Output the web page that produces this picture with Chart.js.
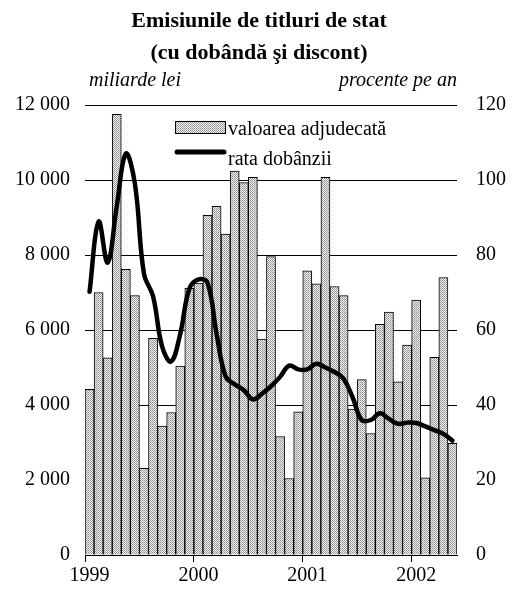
<!DOCTYPE html>
<html>
<head>
<meta charset="utf-8">
<script src="https://cdn.jsdelivr.net/npm/chart.js@4/dist/chart.umd.min.js"></script>
<style>
    html, body { margin: 0; padding: 0; background: #fff; }
</style>
</head>
<body>
<canvas id="emisiuniChart" width="517" height="590"></canvas>
<script>
const luni = [
    'ian 1999', 'feb 1999', 'mar 1999', 'apr 1999', 'mai 1999', 'iun 1999', 'iul 1999', 'aug 1999', 'sep 1999', 'oct 1999', 'nov 1999', 'dec 1999',
    'ian 2000', 'feb 2000', 'mar 2000', 'apr 2000', 'mai 2000', 'iun 2000', 'iul 2000', 'aug 2000', 'sep 2000', 'oct 2000', 'nov 2000', 'dec 2000',
    'ian 2001', 'feb 2001', 'mar 2001', 'apr 2001', 'mai 2001', 'iun 2001', 'iul 2001', 'aug 2001', 'sep 2001', 'oct 2001', 'nov 2001', 'dec 2001',
    'ian 2002', 'feb 2002', 'mar 2002', 'apr 2002', 'mai 2002'
];

// miliarde lei
const valoareaAdjudecata = [
    4420, 7000, 5260, 11750, 7620, 6920, 2310, 5780, 3440, 3800, 5040, 7110,
    7250, 9060, 9300, 8560, 10240, 9930, 10070, 5760, 7960, 3160, 2040, 3820,
    7580, 7230, 10070, 7160, 6920, 3890, 4680, 3240, 6150, 6480, 4620, 5600,
    6800, 2060, 5270, 7400, 2980
];

// procente pe an
const rataDobanzii = [
    70.2, 88.9, 78, 93, 107, 99, 75, 69, 55.6, 51.6, 59, 71,
    73.5, 72.6, 59, 47.6, 45.5, 44, 41.5, 43, 45, 47.5, 50.5, 49.5,
    49.5, 51, 50, 48.8, 47, 42, 36, 36, 37.8, 36.3, 35, 35.3,
    35.2, 34.3, 33.3, 32.3, 30.5
];

const leftTicks = [0, 2000, 4000, 6000, 8000, 10000, 12000];
const rightTicks = [0, 20, 40, 60, 80, 100, 120];

const SERIF = '"Liberation Serif", "Times New Roman", serif';

function formatLei(value) {
    return value.toString().replace(/\B(?=(\d{3})+(?!\d))/g, ' ');
}

function makePattern(ctx) {
    const c = document.createElement('canvas');
    c.width = 2;
    c.height = 2;
    const g = c.getContext('2d');
    g.fillStyle = '#f0f0f0';
    g.fillRect(0, 0, 2, 2);
    g.fillStyle = '#8c8c8c';
    g.fillRect(0, 0, 1, 1);
    g.fillStyle = '#a6a6a6';
    g.fillRect(1, 1, 1, 1);
    return ctx.createPattern(c, 'repeat');
}

// titles, unit captions and the legend inside the plot
const textsPlugin = {
    id: 'texts',
    afterDraw(chart) {
        const ctx = chart.ctx;
        ctx.save();
        ctx.fillStyle = '#000';
        ctx.textBaseline = 'alphabetic';

        ctx.font = 'bold 22px ' + SERIF;
        ctx.textAlign = 'center';
        ctx.fillText('Emisiunile de titluri de stat', 259, 27);
        ctx.fillText('(cu dobândă şi discont)', 259, 59);

        ctx.font = 'italic 20px ' + SERIF;
        ctx.textAlign = 'left';
        ctx.fillText('miliarde lei', 89, 86);
        ctx.textAlign = 'right';
        ctx.fillText('procente pe an', 457, 86);

        // legend
        ctx.fillStyle = chart.data.datasets[1].backgroundColor;
        ctx.fillRect(175, 121, 51, 13);
        ctx.strokeStyle = '#000';
        ctx.lineWidth = 1;
        ctx.strokeRect(175.5, 121.5, 50, 12);

        ctx.beginPath();
        ctx.lineCap = 'round';
        ctx.lineWidth = 5;
        ctx.moveTo(177, 152);
        ctx.lineTo(224, 152);
        ctx.stroke();

        ctx.fillStyle = '#000';
        ctx.font = '20px ' + SERIF;
        ctx.textAlign = 'left';
        ctx.fillText('valoarea adjudecată', 228, 135);
        ctx.fillText('rata dobânzii', 228, 165);
        ctx.restore();
    }
};

window.onload = function() {
    const ctx = document.getElementById('emisiuniChart').getContext('2d');
    const pattern = makePattern(ctx);

    new Chart(ctx, {
        data: {
            labels: luni,
            datasets: [
                {
                    type: 'line',
                    label: 'rata dobânzii',
                    data: rataDobanzii,
                    yAxisID: 'y1',
                    borderColor: '#000',
                    borderWidth: 4.5,
                    borderCapStyle: 'round',
                    borderJoinStyle: 'round',
                    pointRadius: 0,
                    tension: 0.4,
                    order: 0
                },
                {
                    type: 'bar',
                    label: 'valoarea adjudecată',
                    data: valoareaAdjudecata,
                    yAxisID: 'y',
                    backgroundColor: pattern,
                    borderColor: '#000',
                    borderWidth: 1,
                    barPercentage: 1,
                    categoryPercentage: 1,
                    order: 1
                }
            ]
        },
        options: {
            responsive: false,
            animation: false,
            layout: {
                padding: { top: 105, left: 0, right: 0, bottom: 0 }
            },
            plugins: {
                legend: { display: false },
                tooltip: { enabled: false },
                title: { display: false }
            },
            scales: {
                x: {
                    offset: true,
                    afterFit: function(scale) { scale.height = 35; },
                    grid: {
                        offset: true,
                        drawOnChartArea: false,
                        drawTicks: true,
                        tickLength: 7,
                        color: function(context) {
                            return context.index % 12 === 0 ? '#000' : 'rgba(0,0,0,0)';
                        }
                    },
                    border: { display: true, color: '#000', width: 1 },
                    ticks: {
                        autoSkip: false,
                        maxRotation: 0,
                        padding: 2,
                        color: '#000',
                        font: { family: SERIF, size: 20 },
                        callback: function(value, index) {
                            const label = luni[index];
                            return label.startsWith('ian') ? label.slice(4) : '';
                        }
                    }
                },
                y: {
                    position: 'left',
                    min: leftTicks[0],
                    max: leftTicks[leftTicks.length - 1],
                    afterFit: function(scale) { scale.width = 85; },
                    afterBuildTicks: function(scale) {
                        scale.ticks = leftTicks.map(v => ({ value: v }));
                    },
                    grid: {
                        color: '#000',
                        lineWidth: 1,
                        drawTicks: false
                    },
                    border: { display: false },
                    ticks: {
                        padding: 15,
                        color: '#000',
                        font: { family: SERIF, size: 20 },
                        callback: function(value) { return formatLei(value); }
                    }
                },
                y1: {
                    position: 'right',
                    min: rightTicks[0],
                    max: rightTicks[rightTicks.length - 1],
                    afterFit: function(scale) { scale.width = 60; },
                    afterBuildTicks: function(scale) {
                        scale.ticks = rightTicks.map(v => ({ value: v }));
                    },
                    grid: { display: false, drawTicks: false },
                    border: { display: false },
                    ticks: {
                        padding: 19,
                        color: '#000',
                        font: { family: SERIF, size: 20 }
                    }
                }
            }
        },
        plugins: [textsPlugin]
    });
};
</script>
</body>
</html>
